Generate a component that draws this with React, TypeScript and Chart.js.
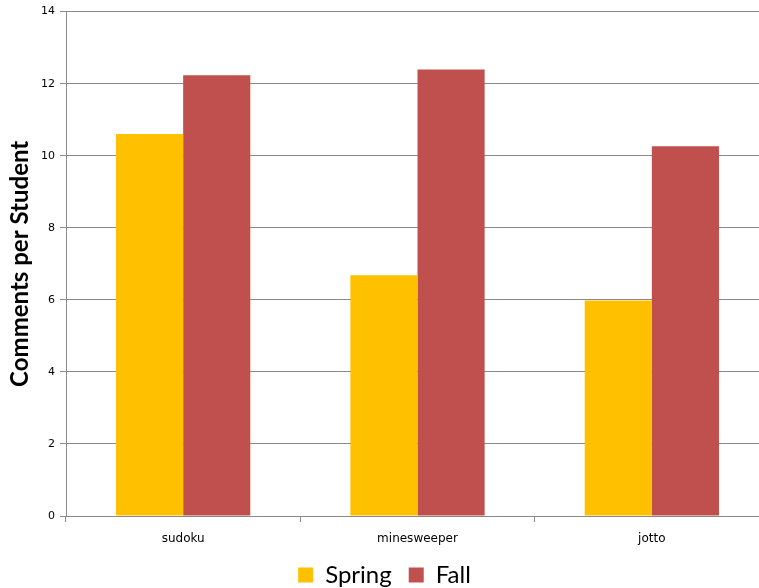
import React, { useEffect, useRef } from "react";
import { Chart, registerables } from "chart.js";

Chart.register(...registerables);

const categories = ["sudoku", "minesweeper", "jotto"];
const springValues = [10.6, 6.68, 5.98];
const fallValues = [12.23, 12.39, 10.26];
const yTicks = [0, 2, 4, 6, 8, 10, 12, 14];

const SPRING_COLOR = "#FFC000";
const FALL_COLOR = "#C0504D";
const GRID_COLOR = "#8a8a8a";
const TICK_FONT = "'DejaVu Sans', Verdana, sans-serif";
const TITLE_FONT = "Lato, 'Open Sans', sans-serif";

// The drawing surface is a little larger than the visible frame; the
// frame clips the right end of the gridlines and the legend's bottom margin.
const CANVAS_W = 770;
const CANVAS_H = 597;

export default function App() {
  const canvasRef = useRef<HTMLCanvasElement | null>(null);

  useEffect(() => {
    const canvas = canvasRef.current;
    if (!canvas) return;
    const chart = new Chart(canvas, {
      type: "bar",
      data: {
        labels: categories,
        datasets: [
          {
            label: "Spring",
            data: springValues,
            backgroundColor: SPRING_COLOR,
            borderWidth: 0,
            categoryPercentage: 0.573,
            barPercentage: 1,
          },
          {
            label: "Fall",
            data: fallValues,
            backgroundColor: FALL_COLOR,
            borderWidth: 0,
            categoryPercentage: 0.573,
            barPercentage: 1,
          },
        ],
      },
      options: {
        responsive: false,
        animation: false,
        devicePixelRatio: 1,
        layout: { padding: { top: 5, right: 1, left: 0, bottom: 0 } },
        plugins: {
          tooltip: { enabled: false },
          legend: {
            position: "bottom",
            labels: {
              boxWidth: 15,
              boxHeight: 15,
              padding: 17,
              color: "#000",
              font: { family: TITLE_FONT, size: 24 },
            },
          },
        },
        scales: {
          x: {
            offset: true,
            afterFit: (scale: any) => {
              scale.height = 30;
            },
            grid: {
              offset: true,
              drawOnChartArea: false,
              drawTicks: true,
              tickLength: 6,
              color: GRID_COLOR,
            },
            border: { color: GRID_COLOR, width: 1 },
            ticks: {
              color: "#000",
              padding: 10,
              font: { family: TICK_FONT, size: 12 },
            },
          },
          y: {
            min: 0,
            max: 14,
            afterFit: (scale: any) => {
              scale.width = 66;
            },
            afterBuildTicks: (scale: any) => {
              scale.ticks = yTicks.map((v) => ({ value: v }));
            },
            grid: {
              color: GRID_COLOR,
              tickLength: 6,
              lineWidth: 1,
            },
            border: { color: GRID_COLOR, width: 1 },
            ticks: {
              color: "#000",
              padding: 5,
              font: { family: TICK_FONT, size: 11 },
            },
            title: {
              display: true,
              text: "Comments per Student",
              color: "#000",
              padding: { top: 6, bottom: 0 },
              font: { family: TITLE_FONT, size: 24, weight: "bold", lineHeight: 1.2 },
            },
          },
        },
      },
    });
    return () => chart.destroy();
  }, []);

  return (
    <div
      style={{
        position: "fixed",
        left: 0,
        top: 0,
        width: 759,
        height: 588,
        overflow: "hidden",
        background: "#fff",
      }}
    >
      <canvas
        ref={canvasRef}
        width={CANVAS_W}
        height={CANVAS_H}
        style={{ width: CANVAS_W, height: CANVAS_H, display: "block" }}
      />
    </div>
  );
}
